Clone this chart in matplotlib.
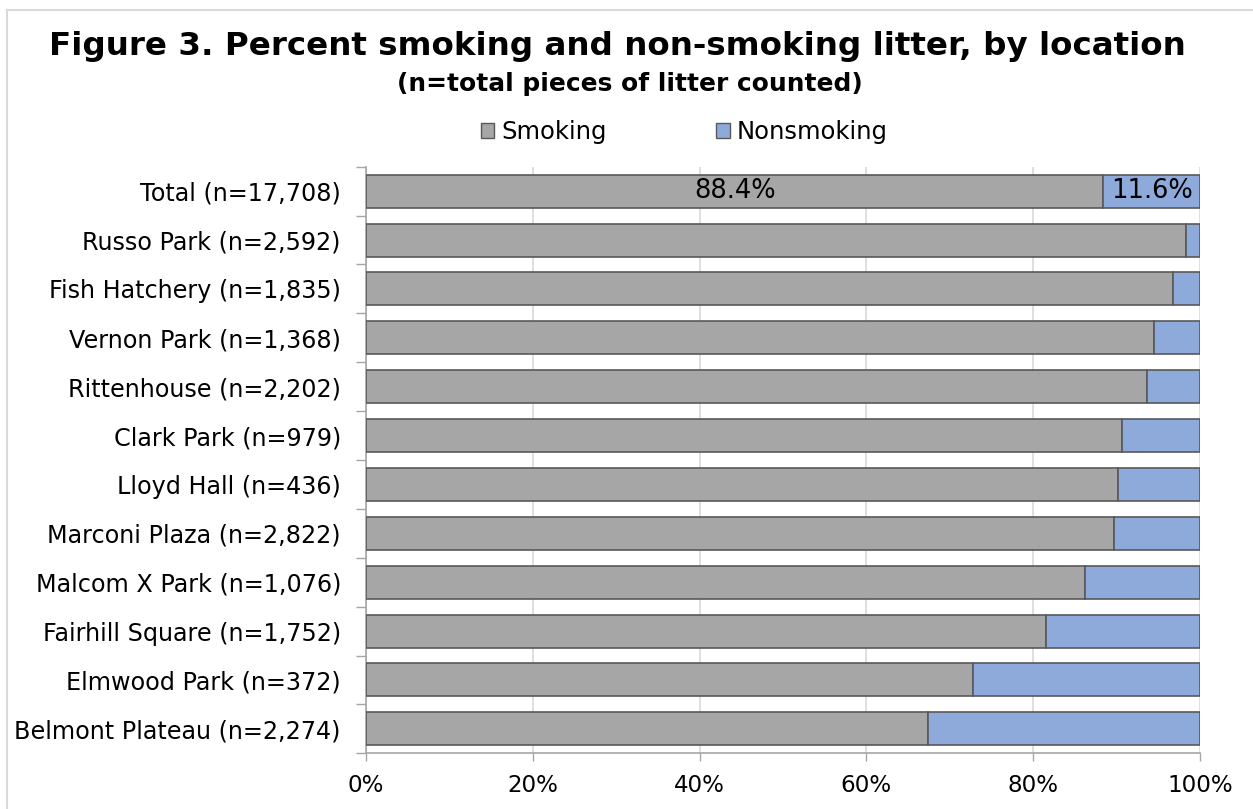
import matplotlib
matplotlib.use("Agg")
import matplotlib.pyplot as plt
from matplotlib.lines import Line2D
from matplotlib.patches import Patch
from matplotlib.ticker import PercentFormatter, MultipleLocator

# Locations (top to bottom), litter counts and percent smoking litter
locations = ["Total", "Russo Park", "Fish Hatchery", "Vernon Park", "Rittenhouse",
             "Clark Park", "Lloyd Hall", "Marconi Plaza", "Malcom X Park",
             "Fairhill Square", "Elmwood Park", "Belmont Plateau"]
counts = [17708, 2592, 1835, 1368, 2202, 979, 436, 2822, 1076, 1752, 372, 2274]
smoking = [88.4, 98.3, 96.8, 94.5, 93.7, 90.6, 90.2, 89.7, 86.2, 81.5, 72.8, 67.4]
nonsmoking = [round(100 - s, 1) for s in smoking]

labels = [f"{name} (n={n:,})" for name, n in zip(locations, counts)]

SMOKE_COLOR = "#a6a6a6"
NONSMOKE_COLOR = "#8eaadb"
EDGE = "#595959"

plt.rcParams["font.family"] = ["DejaVu Sans"]

fig = plt.figure(figsize=(12.53, 8.09), dpi=100)
ax = fig.add_axes([366 / 1253, 1 - 753.3 / 809, (1200 - 366) / 1253, (753.3 - 166.7) / 809])

y = list(range(len(labels)))
bar_h = 0.675
ax.barh(y, smoking, height=bar_h, color=SMOKE_COLOR, edgecolor=EDGE, linewidth=1.2, zorder=3)
ax.barh(y, nonsmoking, left=smoking, height=bar_h, color=NONSMOKE_COLOR,
        edgecolor=EDGE, linewidth=1.2, zorder=3)

# Value labels on the Total row
ax.text(smoking[0] / 2, 0, f"{smoking[0]:.1f}%", ha="center", va="center",
        fontsize=18.5, color="black", zorder=4)
ax.text(smoking[0] + nonsmoking[0] / 2, 0, f"{nonsmoking[0]:.1f}%", ha="center",
        va="center", fontsize=18.5, color="black", zorder=4)

ax.set_xlim(0, 100)
ax.set_ylim(len(labels) - 0.5, -0.5)
ax.xaxis.set_major_locator(MultipleLocator(20))
ax.xaxis.set_major_formatter(PercentFormatter(decimals=0))
ax.grid(axis="x", color="#d9d9d9", linewidth=1.2, zorder=0)
ax.set_axisbelow(True)

ax.set_yticks(y)
ax.set_yticklabels(labels, fontsize=17.2)
ax.set_yticks([i - 0.5 for i in range(len(labels) + 1)], minor=True)
ax.tick_params(axis="y", which="major", length=0, pad=18)
ax.tick_params(axis="y", which="minor", length=7, width=1, color="#a6a6a6")
ax.tick_params(axis="x", length=6, width=1, color="#a6a6a6", pad=9, labelsize=16.6)

for side in ("top", "right"):
    ax.spines[side].set_visible(False)
for side in ("left", "bottom"):
    ax.spines[side].set_color("#a6a6a6")
    ax.spines[side].set_linewidth(1.2)

# Title and subtitle
fig.text(617 / 1253, 1 - 46 / 809, "Figure 3. Percent smoking and non-smoking litter, by location",
         ha="center", va="center", fontsize=23.4, fontweight="bold")
fig.text(630 / 1253, 1 - 84 / 809, "(n=total pieces of litter counted)",
         ha="center", va="center", fontsize=17.9, fontweight="bold")

# Legend
handles = [Patch(facecolor=SMOKE_COLOR, edgecolor=EDGE, label="Smoking"),
           Patch(facecolor=NONSMOKE_COLOR, edgecolor=EDGE, label="Nonsmoking")]
fig.legend(handles=handles, loc="center", bbox_to_anchor=(684.5 / 1253, 1 - 132 / 809),
           ncol=2, frameon=False, fontsize=17.5, handlelength=0.55, handleheight=0.55,
           handletextpad=0.3, columnspacing=4.5)

# Light outer frame
fig.add_artist(Line2D([7 / 1253, 1], [1 - 10 / 809, 1 - 10 / 809], color="#d9d9d9",
                      linewidth=1.5, transform=fig.transFigure))
fig.add_artist(Line2D([7 / 1253, 7 / 1253], [0, 1 - 10 / 809], color="#d9d9d9",
                      linewidth=1.5, transform=fig.transFigure))

fig.savefig("out.png", dpi=100)
